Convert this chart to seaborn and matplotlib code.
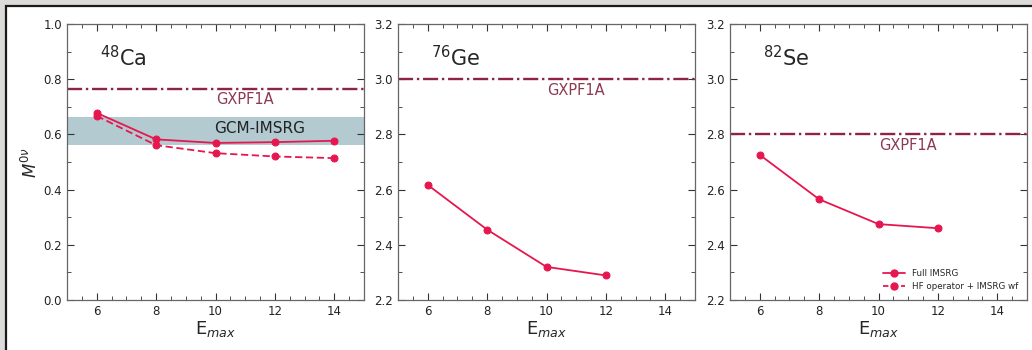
import numpy as np
import pandas as pd
import matplotlib.pyplot as plt
import seaborn as sns
from matplotlib.patches import Rectangle
from matplotlib.lines import Line2D
from matplotlib.ticker import MultipleLocator

# data
emax_ca = [6, 8, 10, 12, 14]
ca_full = [0.678, 0.582, 0.569, 0.572, 0.577]
ca_hf = [0.667, 0.561, 0.532, 0.520, 0.514]

emax_ge = [6, 8, 10, 12]
ge_full = [2.617, 2.455, 2.320, 2.289]

emax_se = [6, 8, 10, 12]
se_full = [2.726, 2.565, 2.475, 2.460]

nuclei = ['$^{48}$Ca', '$^{76}$Ge', '$^{82}$Se']
gxpf1a = [0.765, 3.0, 2.8]
gcm_band = (0.560, 0.662)

RED = '#e6174f'
MAROON = '#8e2445'
TXT_MAROON = '#8c3a52'

sns.set_style('ticks', {'xtick.direction': 'in', 'ytick.direction': 'in'})
plt.rcParams['font.family'] = ['DejaVu Sans']

fig = plt.figure(figsize=(10.32, 3.5), dpi=100)
fig.patch.set_facecolor('#dddada')
fig.patches.append(Rectangle((6 / 1032, -0.02), 1.0, 1 - 6 / 350 + 0.02,
                             transform=fig.transFigure, facecolor='white',
                             edgecolor='#1a1a1a', lw=1.6, zorder=-1))

lefts = [67 / 1032, 398 / 1032, 730 / 1032]
w = 297 / 1032
bottom = 1 - 300 / 350
h = 276 / 350
axes = [fig.add_axes([l, bottom, w, h]) for l in lefts]

ca = pd.DataFrame({'Emax': emax_ca * 2, 'M': ca_full + ca_hf,
                   'kind': ['Full IMSRG'] * 5 + ['HF operator + IMSRG wf'] * 5})
ge = pd.DataFrame({'Emax': emax_ge, 'M': ge_full})
se = pd.DataFrame({'Emax': emax_se, 'M': se_full})

# 48Ca
ax = axes[0]
ax.axhspan(*gcm_band, color='#7fa7b2', alpha=0.6, lw=0, zorder=0)
sns.lineplot(data=ca, x='Emax', y='M', style='kind', ax=ax, color=RED,
             markers=['o', 'o'], dashes=[(1, 0), (4, 2)], markersize=5,
             markeredgecolor=RED, lw=1.3, legend=False, zorder=3)
ax.text(11.5, 0.623, 'GCM-IMSRG', ha='center', va='center', fontsize=11, color='#222')

sns.lineplot(data=ge, x='Emax', y='M', ax=axes[1], color=RED, marker='o',
             markersize=5, markeredgecolor=RED, lw=1.3, zorder=3)
sns.lineplot(data=se, x='Emax', y='M', ax=axes[2], color=RED, marker='o',
             markersize=5, markeredgecolor=RED, lw=1.3, zorder=3)

ylims = [(0, 1.0), (2.2, 3.2), (2.2, 3.2)]
title_y = [0.88, 3.08, 3.08]
for i, ax in enumerate(axes):
    ax.axhline(gxpf1a[i], color=MAROON, ls='-.', lw=1.7, zorder=2)
    ax.text(11.0, gxpf1a[i] - 0.04, 'GXPF1A', ha='center', va='center',
            fontsize=10.5, color=TXT_MAROON)
    ax.text(6.1, title_y[i], nuclei[i], fontsize=15, ha='left', va='center')
    ax.set_xlim(5, 15)
    ax.set_ylim(*ylims[i])
    ax.set_xticks([6, 8, 10, 12, 14])
    ax.xaxis.set_minor_locator(MultipleLocator(0.5))
    ax.yaxis.set_major_locator(MultipleLocator(0.2))
    ax.yaxis.set_minor_locator(MultipleLocator(0.1))
    ax.tick_params(which='both', direction='in', top=True, right=True,
                   bottom=True, left=True, labelsize=8.5, colors='#333',
                   labelcolor='#222')
    ax.tick_params(which='major', length=5, width=0.8)
    ax.tick_params(which='minor', length=3, width=0.6)
    for s in ax.spines.values():
        s.set_color('#666')
        s.set_linewidth(0.9)
    ax.set_xlabel('E$_{max}$', fontsize=13, labelpad=1)
    ax.set_ylabel('')
    ax.set_yticklabels([f'{t:.1f}' for t in ax.get_yticks()])

axes[0].set_ylabel('$M^{0\\nu}$', fontsize=12, labelpad=2)

handles = [Line2D([], [], color=RED, marker='o', markersize=5, lw=1.3),
           Line2D([], [], color=RED, marker='o', markersize=5, lw=1.3, ls=(0, (3, 2)))]
axes[2].legend(handles, ['Full IMSRG', 'HF operator + IMSRG wf'], loc='lower right',
               fontsize=6.3, frameon=False, handlelength=2.5, borderaxespad=0.6)

fig.savefig('out.png', dpi=100, facecolor=fig.get_facecolor())
